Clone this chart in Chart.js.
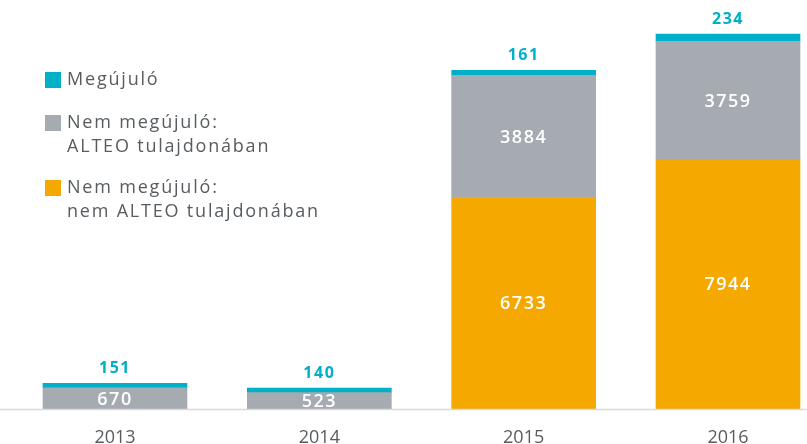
<!DOCTYPE html>
<html>
<head>
<meta charset="utf-8">
<script src="https://cdn.jsdelivr.net/npm/chart.js@4/dist/chart.umd.min.js"></script>
<style>
  body { margin: 0; background: #fff; }
  #wrap { position: relative; width: 807px; height: 444px; }
  #legend { position: absolute; left: 0; top: 0; font-family: "Open Sans", sans-serif; font-size: 18px; color: #575c60; letter-spacing: 1.8px; }
  .item { position: absolute; left: 67px; line-height: 24px; white-space: nowrap; }
  .box { position: absolute; left: -22px; width: 16px; height: 16px; }
</style>
</head>
<body>
<div id="wrap">
  <canvas id="chart" width="807" height="444"></canvas>
  <div id="legend"></div>
</div>
<script>
// adatok
const years = ["2013", "2014", "2015", "2016"];
const nemAlteo = [null, null, 6733, 7944];
const alteo = [670, 523, 3884, 3759];
const megujulo = [151, 140, 161, 234];

const legendNames = [
  ["Megújuló"],
  ["Nem megújuló:", "ALTEO tulajdonában"],
  ["Nem megújuló:", "nem ALTEO tulajdonában"],
];

const cTeal = "#00afc8";
const cGray = "#a5abb0";
const cOrange = "#f5a800";

//HTML jelmagyarazat
const legendColors = [cTeal, cGray, cOrange];
const legendTops = [66, 109, 174];
const legendEl = document.getElementById("legend");
legendNames.forEach((lines, i) => {
  const div = document.createElement("div");
  div.className = "item";
  div.style.top = legendTops[i] + "px";
  div.innerHTML = '<span class="box" style="background:' + legendColors[i] + ';top:6px"></span>' + lines.join("<br>");
  legendEl.appendChild(div);
});

//tengelyvonal es ertekek kirajzolasa
const labelPlugin = {
  id: "labels",
  afterDatasetsDraw(chart) {
    const ctx = chart.ctx;
    const y0 = chart.scales.y.getPixelForValue(0);
    ctx.save();
    ctx.strokeStyle = "#d6dadd";
    ctx.lineWidth = 1.5;
    ctx.beginPath();
    ctx.moveTo(0, y0 + 0.5);
    ctx.lineTo(chart.width, y0 + 0.5);
    ctx.stroke();

    ctx.textAlign = "center";
    ctx.letterSpacing = "1.5px";
    chart.data.datasets.forEach((ds, di) => {
      const meta = chart.getDatasetMeta(di);
      meta.data.forEach((bar, i) => {
        const v = ds.data[i];
        if (!v) return;
        if (di === 2) {
          ctx.font = "bold 16px 'Open Sans'";
          ctx.fillStyle = cTeal;
          ctx.textBaseline = "alphabetic";
          ctx.fillText(v, bar.x, bar.y - 10);
        } else {
          ctx.font = "600 18px 'Open Sans'";
          ctx.fillStyle = "#ffffff";
          ctx.textBaseline = "middle";
          ctx.fillText(v, bar.x, (bar.y + bar.base) / 2 + 1);
        }
      });
    });
    ctx.restore();
  },
};

new Chart(document.getElementById("chart"), {
  type: "bar",
  data: {
    labels: years,
    datasets: [
      { label: "Nem megújuló: nem ALTEO tulajdonában", data: nemAlteo, backgroundColor: cOrange },
      { label: "Nem megújuló: ALTEO tulajdonában", data: alteo, backgroundColor: cGray },
      { label: "Megújuló", data: megujulo, backgroundColor: cTeal },
    ],
  },
  options: {
    responsive: false,
    animation: false,
    layout: { padding: { left: 115, right: 79, top: 32, bottom: -15 } },
    datasets: { bar: { barThickness: 144, clip: false } },
    plugins: { legend: { display: false }, tooltip: { enabled: false } },
    scales: {
      x: {
        stacked: true,
        offset: false,
        grid: { display: false },
        border: { display: false },
        ticks: {
          padding: 12,
          color: "#575c60",
          font: { family: "Open Sans", size: 18, lineHeight: 1 },
        },
      },
      y: {
        stacked: true,
        display: false,
        min: 0,
        max: 12000,
      },
    },
  },
  plugins: [labelPlugin],
});
</script>
</body>
</html>
